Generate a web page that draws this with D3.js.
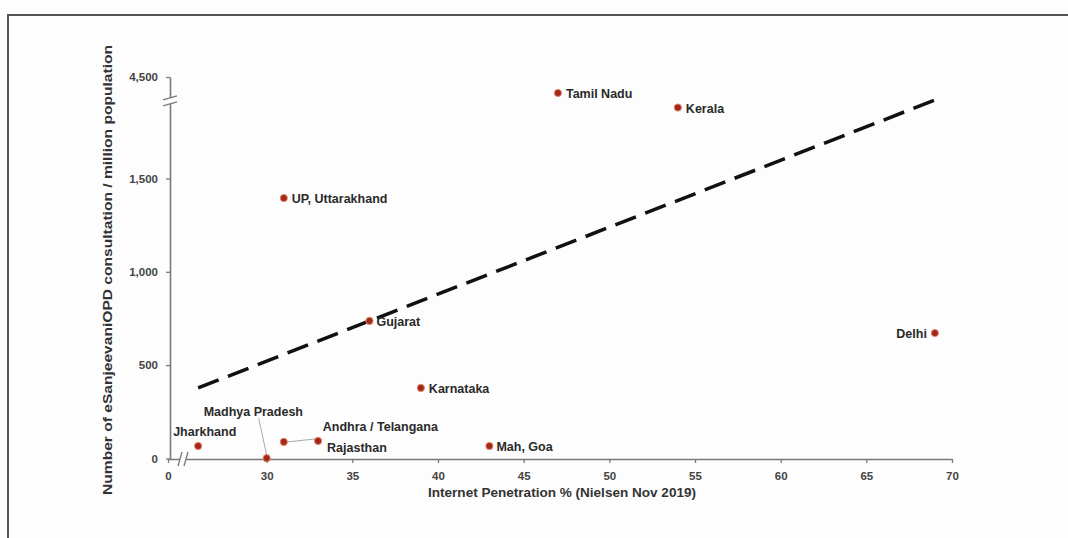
<!DOCTYPE html>
<html><head><meta charset="utf-8">
<script src="https://cdn.jsdelivr.net/npm/d3@7/dist/d3.min.js"></script>
<style>
html,body{margin:0;padding:0;background:#fdfdfd;}
svg{display:block;font-family:"Liberation Sans",Arial,sans-serif;}
</style></head>
<body>
<svg id="chart" width="1068" height="538"></svg>
<script>
// ---- data ----
const states = ["Jharkhand","Madhya Pradesh","Andhra / Telangana","Rajasthan","UP, Uttarakhand","Gujarat","Karnataka","Mah, Goa","Tamil Nadu","Kerala","Delhi"];
const penetration = [26, 30, 31, 33, 31, 36, 39, 43, 47, 54, 69];
const consultations = [67, 2, 89, 94, 1395, 737, 378, 67, 2950, 1880, 672];
const xTicks = [0, 30, 35, 40, 45, 50, 55, 60, 65, 70];
const yTicks = [0, 500, 1000, 1500, 4500];
const yTickLabels = ["0", "500", "1,000", "1,500", "4,500"];
const trendX = [26, 69];
const trendY = [378, 2270];
const xTitle = "Internet Penetration % (Nielsen Nov 2019)";
const yTitle = "Number of eSanjeevaniOPD consultation / million population";

// label placement (style)
const labelPos = {
  "Jharkhand": [-25, -10, "start"],
  "Madhya Pradesh": [-63, -42, "start"],
  "Andhra / Telangana": [39, -11, "start"],
  "Rajasthan": [9, 11, "start"],
  "UP, Uttarakhand": [8, 5, "start"],
  "Gujarat": [7, 5, "start"],
  "Karnataka": [8, 5, "start"],
  "Mah, Goa": [7, 5, "start"],
  "Tamil Nadu": [8, 5, "start"],
  "Kerala": [8, 5, "start"],
  "Delhi": [-8, 5, "end"]
};

const svg = d3.select("#chart");

// frame
svg.append("path").attr("d","M8,538 V15 H1068").attr("fill","none").attr("stroke","#555").attr("stroke-width",2);

// broken scales (piecewise)
const x = d3.scaleLinear().domain([0, 25, 70]).range([168, 181, 952]);
const y = d3.scaleLinear().domain([0, 1900, 4500]).range([458.5, 103.8, 77]);

const axisColor = "#7a7a7a";
const gx = svg.append("g").attr("transform","translate(0,459)")
  .call(d3.axisBottom(x).tickValues(xTicks).tickSizeInner(4).tickSizeOuter(0).tickPadding(9).tickFormat(d3.format("d")));
const gy = svg.append("g").attr("transform","translate(170,0)")
  .call(d3.axisLeft(y).tickValues(yTicks).tickSizeInner(4).tickSizeOuter(0).tickPadding(8).tickFormat((d,i)=>yTickLabels[i]));
[gx, gy].forEach(g=>{
  g.select(".domain").attr("stroke",axisColor).attr("stroke-width",1.6);
  g.selectAll(".tick line").attr("stroke",axisColor).attr("stroke-width",1.3);
  g.selectAll(".tick text").attr("fill","#444").attr("font-size",11.5).attr("font-weight","bold")
   .attr("font-family","'Liberation Sans',Arial,sans-serif");
});

// break markers
const bx = x(25) + 2;
svg.append("rect").attr("x",bx-3).attr("y",452).attr("width",6).attr("height",14).attr("fill","#fdfdfd");
[-3,3].forEach(o=>svg.append("line").attr("x1",bx+o-2).attr("y1",466).attr("x2",bx+o+2).attr("y2",452).attr("stroke",axisColor).attr("stroke-width",1.3));
const by = y(1900) - 3;
svg.append("rect").attr("x",163).attr("y",by-3).attr("width",14).attr("height",6).attr("fill","#fdfdfd");
[-3,3].forEach(o=>svg.append("line").attr("x1",163).attr("y1",by+o+2).attr("x2",177).attr("y2",by+o-2).attr("stroke",axisColor).attr("stroke-width",1.3));

// axis titles
svg.append("text").attr("x",562).attr("y",497).attr("text-anchor","middle")
  .attr("font-size",13).attr("font-weight","bold").attr("fill","#333")
  .attr("textLength",268).attr("lengthAdjust","spacingAndGlyphs").text(xTitle);
svg.append("text").attr("transform","translate(112,270) rotate(-90)").attr("text-anchor","middle")
  .attr("font-size",13).attr("font-weight","bold").attr("fill","#333")
  .attr("textLength",450).attr("lengthAdjust","spacingAndGlyphs").text(yTitle);

// trend line
svg.append("line")
  .attr("x1",x(trendX[0])).attr("y1",y(trendY[0]))
  .attr("x2",x(trendX[1])).attr("y2",y(trendY[1]))
  .attr("stroke","#111").attr("stroke-width",3.5).attr("stroke-dasharray","22,10");

const pts = states.map((s,i)=>({name:s, px:x(penetration[i]), py:y(consultations[i])}));

// leader lines
const mp = pts.find(p=>p.name==="Madhya Pradesh");
svg.append("line").attr("x1",mp.px-8).attr("y1",mp.py-40).attr("x2",mp.px).attr("y2",mp.py-3)
  .attr("stroke","#aaa").attr("stroke-width",1);
const ap = pts.find(p=>p.name==="Andhra / Telangana");
svg.append("line").attr("x1",ap.px+4).attr("y1",ap.py).attr("x2",ap.px+32).attr("y2",ap.py-3)
  .attr("stroke","#aaa").attr("stroke-width",1);

// points
svg.selectAll("circle.pt").data(pts).enter().append("circle").attr("class","pt")
  .attr("cx",d=>d.px).attr("cy",d=>d.py).attr("r",3.6)
  .attr("fill","#a3281b").attr("stroke","#e08a70").attr("stroke-width",1);

// labels
svg.selectAll("text.lbl").data(pts).enter().append("text").attr("class","lbl")
  .attr("x",d=>d.px+labelPos[d.name][0]).attr("y",d=>d.py+labelPos[d.name][1])
  .attr("text-anchor",d=>labelPos[d.name][2])
  .attr("font-size",12.5).attr("font-weight","bold").attr("fill","#2a2a2a").text(d=>d.name);
</script>
</body></html>
